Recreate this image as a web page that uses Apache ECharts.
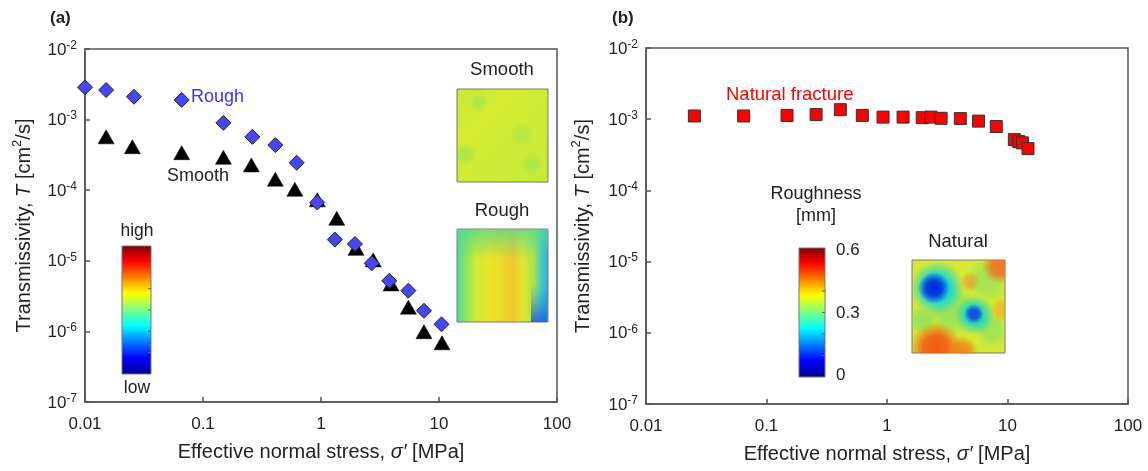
<!DOCTYPE html>
<html>
<head>
<meta charset="utf-8">
<script src="https://cdn.jsdelivr.net/npm/echarts@6/dist/echarts.min.js"></script>
<style>
  html, body { margin: 0; padding: 0; background: #fff; }
  #chart { width: 1148px; height: 471px; }
</style>
</head>
<body>
<div id="chart"></div>
<script>
// ---- data ----
var xTickLabels = ['0.01', '0.1', '1', '10', '100'];

// (a) rough / smooth fractures
var roughStress = [0.01, 0.0151, 0.026, 0.066, 0.149, 0.262, 0.41, 0.622, 0.93, 1.31, 1.94, 2.69, 3.79, 5.5, 7.46, 10.5];
var roughT = [2.87e-3, 2.62e-3, 2.11e-3, 1.9e-3, 9.0e-4, 5.7e-4, 4.36e-4, 2.45e-4, 6.7e-5, 2.0e-5, 1.73e-5, 9.2e-6, 5.2e-6, 3.78e-6, 1.96e-6, 1.26e-6];

var smoothStress = [0.0151, 0.0252, 0.066, 0.149, 0.257, 0.41, 0.60, 0.93, 1.36, 1.98, 2.77, 3.92, 5.5, 7.46, 10.6];
var smoothT = [5.7e-4, 4.13e-4, 3.4e-4, 2.92e-4, 2.28e-4, 1.43e-4, 1.03e-4, 7.3e-5, 4.0e-5, 1.5e-5, 1.03e-5, 4.7e-6, 2.2e-6, 9.9e-7, 6.9e-7];

// (b) natural fracture
var naturalStress = [0.0252, 0.0646, 0.148, 0.258, 0.41, 0.624, 0.927, 1.36, 1.96, 2.32, 2.81, 4.06, 5.75, 8.07, 11.4, 12.4, 13.3, 14.8];
var naturalT = [1.11e-3, 1.11e-3, 1.13e-3, 1.16e-3, 1.36e-3, 1.13e-3, 1.07e-3, 1.07e-3, 1.05e-3, 1.07e-3, 1.03e-3, 1.02e-3, 9.4e-4, 7.9e-4, 5.17e-4, 4.84e-4, 4.65e-4, 3.86e-4];

var roughnessTicks = ['0.6', '0.3', '0'];

function pairs(xs, ys) {
  var out = [];
  for (var i = 0; i < xs.length; i++) out.push([xs[i], ys[i]]);
  return out;
}

var FONT = 'Liberation Sans, Arial, sans-serif';
var AXIS_COLOR = '#555';

function xLabel(v) {
  var e = Math.round(Math.log10(v));
  return xTickLabels[e + 2] || '';
}
function yLabel(v) {
  var e = Math.round(Math.log10(v));
  return '{b|10}{s|' + e + '}';
}
var yRich = {
  b: { fontSize: 17, color: '#222', fontFamily: FONT, lineHeight: 19, verticalAlign: 'bottom' },
  s: { fontSize: 12, color: '#222', fontFamily: FONT, lineHeight: 10, verticalAlign: 'top' }
};
var nameRich = {
  t: { fontSize: 20, color: '#222', fontFamily: FONT, lineHeight: 23, verticalAlign: 'bottom' },
  i: { fontSize: 20, color: '#222', fontFamily: FONT, fontStyle: 'italic', lineHeight: 23, verticalAlign: 'bottom' },
  s: { fontSize: 13, color: '#222', fontFamily: FONT, lineHeight: 13, verticalAlign: 'top' }
};

function makeX(gi) {
  return {
    type: 'log', logBase: 10, gridIndex: gi, min: 0.01, max: 100,
    name: '{t|Effective normal stress, }{i|σ′}{t| [MPa]}',
    nameLocation: 'middle', nameGap: 37,
    nameTextStyle: { rich: nameRich },
    axisLine: { lineStyle: { color: AXIS_COLOR, width: 1.5 } },
    axisTick: { inside: true, length: 5, lineStyle: { color: AXIS_COLOR, width: 1.5 } },
    axisLabel: { formatter: xLabel, fontSize: 17, color: '#222', fontFamily: FONT, margin: 14 },
    splitLine: { show: false },
    minorTick: { show: false }
  };
}
function makeY(gi, gap) {
  return {
    type: 'log', logBase: 10, gridIndex: gi, min: 1e-7, max: 1e-2, interval: 1,
    name: '{t|Transmissivity, }{i|T}{t| [cm}{s|2}{t|/s]}',
    nameLocation: 'middle', nameGap: gap, nameRotate: 90,
    nameTextStyle: { rich: nameRich },
    axisLine: { lineStyle: { color: AXIS_COLOR, width: 1.5 } },
    axisTick: { inside: true, length: 5, lineStyle: { color: AXIS_COLOR, width: 1.5 } },
    axisLabel: { formatter: yLabel, rich: yRich, margin: 8 },
    splitLine: { show: false }
  };
}

var jet = [
  { offset: 0, color: '#800000' },
  { offset: 0.12, color: '#ff0000' },
  { offset: 0.37, color: '#ffff00' },
  { offset: 0.62, color: '#00ffff' },
  { offset: 0.87, color: '#0000ff' },
  { offset: 1, color: '#00008f' }
];

function colorBar(x, y, w, h) {
  var els = [{
    type: 'rect', shape: { x: x, y: y, width: w, height: h },
    style: { fill: new echarts.graphic.LinearGradient(0, 0, 0, 1, jet), stroke: '#777', lineWidth: 1 }
  }];
  for (var k = 1; k < 6; k++) {
    var yy = y + h * k / 6;
    els.push({ type: 'line', shape: { x1: x + w - 3, y1: yy, x2: x + w, y2: yy }, style: { stroke: '#666', lineWidth: 1 } });
  }
  return els;
}

function txt(x, y, s, size, color, align, weight) {
  return {
    type: 'text', x: x, y: y,
    style: { text: s, fontSize: size, fill: color || '#222', fontFamily: FONT,
             align: align || 'left', verticalAlign: 'middle', fontWeight: weight || 'normal' }
  };
}

function lg(x0, y0, x1, y1, stops) { return new echarts.graphic.LinearGradient(x0, y0, x1, y1, stops); }
function rg(cx, cy, r, stops) { return new echarts.graphic.RadialGradient(cx, cy, r, stops); }

function blob(cx, cy, r, rgb, a) {
  return {
    type: 'circle', shape: { cx: cx, cy: cy, r: r },
    style: { fill: rg(0.5, 0.5, 0.5, [
      { offset: 0, color: 'rgba(' + rgb + ',' + a + ')' },
      { offset: 0.5, color: 'rgba(' + rgb + ',' + (a * 0.85) + ')' },
      { offset: 1, color: 'rgba(' + rgb + ',0)' }]) }
  };
}

// inset textures (approximate the roughness maps)
var smoothBox = { x: 457, y: 89, w: 91, h: 93 };
var roughBox = { x: 457, y: 229, w: 91, h: 93 };
var natBox = { x: 912, y: 260, w: 93, h: 93 };

function clipGroup(box, kids) {
  return {
    type: 'group', children: kids.map(function (k) {
      k.clipPath = { type: 'rect', shape: { x: box.x, y: box.y, width: box.w, height: box.h } };
      return k;
    })
  };
}

var insets = [
  { type: 'rect', shape: { x: smoothBox.x, y: smoothBox.y, width: smoothBox.w, height: smoothBox.h },
    style: { fill: lg(0, 0, 1, 1, [
      { offset: 0, color: '#c4ea3c' }, { offset: 0.3, color: '#d6ec30' }, { offset: 0.6, color: '#cceb36' },
      { offset: 1, color: '#c6ea3a' }]), stroke: '#777', lineWidth: 1 } },
  clipGroup(smoothBox, [
    blob(smoothBox.x + 22, smoothBox.y + 14, 10, '90,220,110', 0.3),
    blob(smoothBox.x + 8, smoothBox.y + 65, 12, '90,220,110', 0.3),
    blob(smoothBox.x + 65, smoothBox.y + 45, 12, '110,225,100', 0.25),
    blob(smoothBox.x + 75, smoothBox.y + 75, 10, '90,220,110', 0.25)
  ]),
  { type: 'rect', shape: { x: roughBox.x, y: roughBox.y, width: roughBox.w, height: roughBox.h },
    style: { fill: lg(0, 0, 1, 0, [
      { offset: 0, color: '#50d8a0' }, { offset: 0.08, color: '#80e070' }, { offset: 0.2, color: '#c8ea38' },
      { offset: 0.35, color: '#e8e428' }, { offset: 0.5, color: '#ecd828' }, { offset: 0.62, color: '#f0c830' },
      { offset: 0.72, color: '#e4e430' }, { offset: 0.84, color: '#a8e450' }, { offset: 0.93, color: '#40c8c8' },
      { offset: 1, color: '#30a8e0' }]), stroke: '#777', lineWidth: 1 } },
  { type: 'rect', shape: { x: roughBox.x, y: roughBox.y, width: roughBox.w, height: 30 },
    style: { fill: lg(0, 0, 0, 1, [{ offset: 0, color: 'rgba(80,215,150,0.75)' }, { offset: 1, color: 'rgba(80,215,150,0)' }]) } },
  { type: 'rect', shape: { x: roughBox.x + 74, y: roughBox.y + 55, width: 16, height: 38 },
    style: { fill: lg(0, 0, 0, 1, [{ offset: 0, color: 'rgba(40,150,230,0)' }, { offset: 1, color: 'rgba(20,90,230,0.85)' }]) } },
  { type: 'rect', shape: { x: natBox.x, y: natBox.y, width: natBox.w, height: natBox.h },
    style: { fill: '#d4e834', stroke: '#777', lineWidth: 1 } },
  clipGroup(natBox, [
    blob(natBox.x + 75, natBox.y + 20, 22, '150,228,90', 0.8),
    blob(natBox.x + 40, natBox.y + 50, 26, '130,224,100', 0.75),
    blob(natBox.x + 80, natBox.y + 70, 18, '140,226,95', 0.7),
    blob(natBox.x + 10, natBox.y + 60, 14, '120,222,110', 0.7),
    blob(natBox.x + 25, natBox.y + 28, 27, '0,215,235', 0.95),
    blob(natBox.x + 22, natBox.y + 28, 16, '0,40,225', 1),
    blob(natBox.x + 63, natBox.y + 55, 20, '0,215,215', 0.85),
    blob(natBox.x + 62, natBox.y + 54, 10, '20,70,230', 1),
    blob(natBox.x + 24, natBox.y + 88, 26, '245,80,20', 0.95),
    blob(natBox.x + 50, natBox.y + 92, 16, '245,120,20', 0.85),
    blob(natBox.x + 88, natBox.y + 6, 18, '245,100,30', 0.85),
    blob(natBox.x + 58, natBox.y + 22, 10, '245,140,40', 0.6),
    blob(natBox.x + 90, natBox.y + 50, 12, '245,160,40', 0.6)
  ])
];

var graphics = [
  txt(50, 18, '(a)', 17, '#222', 'left', 'bold'),
  txt(612, 18, '(b)', 17, '#222', 'left', 'bold'),
  txt(191, 97, 'Rough', 18, '#3333ff'),
  txt(167, 176, 'Smooth', 18, '#222'),
  txt(726, 95, 'Natural fracture', 18.5, '#ff0000'),
  txt(502, 70, 'Smooth', 18.5, '#222', 'center'),
  txt(502, 211, 'Rough', 18.5, '#222', 'center'),
  txt(958, 242, 'Natural', 18.5, '#222', 'center'),
  txt(137, 231, 'high', 17.5, '#222', 'center'),
  txt(137, 388, 'low', 17.5, '#222', 'center'),
  txt(816, 194, 'Roughness', 18, '#222', 'center'),
  txt(816, 216, '[mm]', 18, '#222', 'center'),
  txt(836, 250, roughnessTicks[0], 17, '#222'),
  txt(836, 313, roughnessTicks[1], 17, '#222'),
  txt(836, 375, roughnessTicks[2], 17, '#222')
].concat(colorBar(122, 246, 29, 128)).concat(colorBar(799, 248, 26, 129)).concat(insets);

var chart = echarts.init(document.getElementById('chart'));
chart.setOption({
  animation: false,
  backgroundColor: '#fff',
  textStyle: { fontFamily: FONT },
  grid: [
    { left: 85, top: 49, width: 472, height: 353, show: true, borderColor: AXIS_COLOR, borderWidth: 1.5 },
    { left: 646, top: 48, width: 482, height: 356, show: true, borderColor: AXIS_COLOR, borderWidth: 1.5 }
  ],
  xAxis: [makeX(0), makeX(1)],
  yAxis: [makeY(0, 51), makeY(1, 53)],
  series: [
    {
      name: 'Smooth', type: 'scatter', xAxisIndex: 0, yAxisIndex: 0,
      symbol: 'triangle', symbolSize: [16, 14],
      itemStyle: { color: '#000', borderColor: '#000', borderWidth: 0.5, opacity: 1 },
      data: pairs(smoothStress, smoothT)
    },
    {
      name: 'Rough', type: 'scatter', xAxisIndex: 0, yAxisIndex: 0,
      symbol: 'diamond', symbolSize: [15, 15],
      itemStyle: { color: '#4646f2', borderColor: '#222', borderWidth: 1, opacity: 1 },
      data: pairs(roughStress, roughT)
    },
    {
      name: 'Natural fracture', type: 'scatter', xAxisIndex: 1, yAxisIndex: 1,
      symbol: 'rect', symbolSize: [12, 12],
      itemStyle: { color: '#ff0000', borderColor: '#333', borderWidth: 1, opacity: 1 },
      data: pairs(naturalStress, naturalT)
    }
  ],
  graphic: graphics
});
</script>
</body>
</html>
